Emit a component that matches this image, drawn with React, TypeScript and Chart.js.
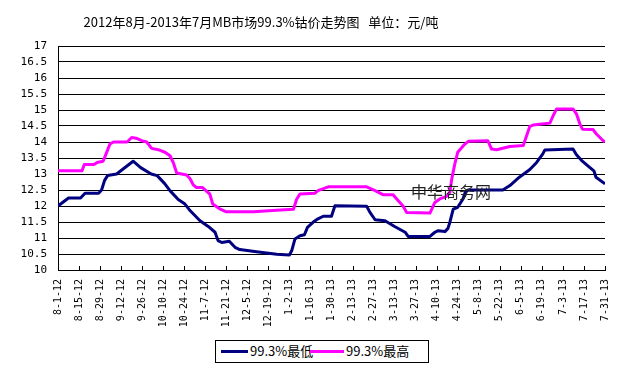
import React, { useEffect, useRef } from "react";
import { Chart, registerables } from "chart.js";

Chart.register(...registerables);

const TITLE = "2012年8月-2013年7月MB市场99.3%钴价走势图   单位：元/吨";
const WATERMARK = "中华商务网";
const SERIES_NAMES = ["99.3%最低", "99.3%最高"];
const SERIES_COLORS = ["#000080", "#FF00FF"];

// day offsets from 2012-08-01
const lowDays = [0, 7, 15, 18, 27, 29, 31, 33, 39, 50, 55, 62, 66, 71, 74.5, 80, 84.5, 88, 94.5, 100, 104.5, 106.5, 109, 114, 117.8, 121, 132, 145.5, 154, 155.5, 157.7, 161, 164, 166, 169.7, 173, 176.5, 182, 184.3, 205.4, 207.6, 211, 217.6, 224, 231, 233, 247.5, 250.8, 253, 257.5, 259.5, 260.8, 263, 266, 269.5, 271, 273, 296, 300.7, 307, 314, 318.5, 322.5, 324, 342.7, 345, 348.5, 353, 356.6, 358, 364];
const lowValues = [12.0, 12.25, 12.25, 12.4, 12.4, 12.5, 12.8, 12.95, 13.0, 13.4, 13.2, 13.0, 12.95, 12.7, 12.48, 12.2, 12.06, 11.85, 11.54, 11.36, 11.18, 10.92, 10.86, 10.9, 10.71, 10.64, 10.57, 10.49, 10.47, 10.6, 10.97, 11.07, 11.1, 11.33, 11.49, 11.6, 11.68, 11.68, 12.01, 11.99, 11.8, 11.57, 11.54, 11.36, 11.18, 11.05, 11.05, 11.18, 11.23, 11.2, 11.3, 11.5, 11.9, 11.96, 12.22, 12.43, 12.5, 12.5, 12.64, 12.9, 13.14, 13.36, 13.62, 13.75, 13.78, 13.6, 13.42, 13.24, 13.1, 12.9, 12.69];

const highDays = [0, 16, 17.5, 24, 26, 30, 32, 34.6, 37, 46, 49, 52, 55.7, 59, 62.3, 66.7, 71.2, 74.5, 76.7, 79, 85.6, 87.8, 90, 92, 96, 101, 103, 108, 112, 130, 145.5, 156.7, 158.8, 161, 171, 173, 179.8, 205.4, 211, 216.6, 223, 225.4, 229.6, 232, 247.5, 250.8, 254, 258.6, 260.8, 262, 264, 266, 270, 273, 286, 288.5, 291.9, 300.7, 309.6, 314, 316.2, 321.8, 327.3, 329.5, 331.7, 342.8, 345, 347.3, 349, 356, 358.3, 362.8, 364];
const highValues = [13.1, 13.1, 13.3, 13.3, 13.36, 13.4, 13.63, 13.94, 14.0, 14.0, 14.14, 14.12, 14.04, 14.0, 13.8, 13.76, 13.68, 13.57, 13.36, 13.03, 12.97, 12.86, 12.66, 12.58, 12.58, 12.375, 12.06, 11.9, 11.82, 11.82, 11.87, 11.9, 12.21, 12.375, 12.4, 12.48, 12.6, 12.6, 12.48, 12.35, 12.35, 12.22, 12.0, 11.8, 11.78, 12.11, 12.22, 12.3, 12.43, 12.84, 13.3, 13.68, 13.9, 14.02, 14.04, 13.78, 13.76, 13.86, 13.89, 14.49, 14.53, 14.56, 14.59, 14.82, 15.03, 15.03, 14.88, 14.56, 14.4, 14.39, 14.25, 14.04, 14.0];

const Y_MIN = 10;
const Y_MAX = 17;
const Y_STEP = 0.5;
const X_MAX_DAY = 364;
const X_STEP_DAYS = 14;

function dayLabel(d: number): string {
  const dt = new Date(2012, 7, 1 + Math.round(d));
  return `${dt.getMonth() + 1}-${dt.getDate()}-${String(dt.getFullYear()).slice(2)}`;
}

const MONO = '"DejaVu Sans Mono", "Noto Sans CJK SC", monospace';
const CJK = '"Noto Sans CJK SC", "DejaVu Sans", sans-serif';

export default function App() {
  const ref = useRef<HTMLCanvasElement | null>(null);

  useEffect(() => {
    document.body.style.margin = "0";
    const canvas = ref.current;
    if (!canvas) return;
    const overlay = {
      id: "overlay",
      afterDraw(chart: any) {
        const ctx = chart.ctx;
        const xs = chart.scales.x;
        const area = chart.chartArea;
        ctx.save();
        // inside tick marks on x axis
        ctx.strokeStyle = "#000";
        ctx.lineWidth = 1;
        ctx.beginPath();
        xs.ticks.forEach((t: any) => {
          const px = Math.round(xs.getPixelForValue(t.value)) + 0.5;
          ctx.moveTo(px, area.bottom);
          ctx.lineTo(px, area.bottom - 4);
        });
        ctx.stroke();
        // title
        ctx.fillStyle = "#000";
        ctx.font = `13px ${CJK}`;
        ctx.textAlign = "center";
        ctx.textBaseline = "middle";
        ctx.fillText(TITLE, 261, 22);
        // watermark
        ctx.fillStyle = "#222";
        ctx.font = `16px ${CJK}`;
        ctx.textAlign = "left";
        ctx.fillText(WATERMARK, 411, 192);
        ctx.restore();
      },
    };
    const chart = new Chart(canvas, {
      type: "line",
      data: {
        datasets: [
          {
            label: SERIES_NAMES[0],
            data: lowDays.map((d, i) => ({ x: d, y: lowValues[i] })),
            borderColor: SERIES_COLORS[0],
            backgroundColor: SERIES_COLORS[0],
            borderWidth: 3,
            pointRadius: 0,
            tension: 0,
            borderJoinStyle: "round",
          },
          {
            label: SERIES_NAMES[1],
            data: highDays.map((d, i) => ({ x: d, y: highValues[i] })),
            borderColor: SERIES_COLORS[1],
            backgroundColor: SERIES_COLORS[1],
            borderWidth: 3,
            pointRadius: 0,
            tension: 0,
            borderJoinStyle: "round",
          },
        ],
      },
      options: {
        animation: false,
        responsive: false,
        devicePixelRatio: 1,
        layout: { padding: { top: 46, right: 22, bottom: 0, left: 0 } },
        plugins: {
          legend: { display: false },
          title: { display: false },
          tooltip: { enabled: false },
        },
        scales: {
          x: {
            type: "linear",
            min: 0,
            max: X_MAX_DAY,
            afterFit: (s: any) => {
              s.height = 100;
            },
            grid: { display: false, drawTicks: false },
            border: { display: true, color: "#000", width: 1 },
            ticks: {
              stepSize: X_STEP_DAYS,
              maxTicksLimit: 40,
              autoSkip: false,
              maxRotation: 90,
              minRotation: 90,
              padding: 9,
              color: "#000",
              font: { family: MONO, size: 10 },
              callback: (v: any) => dayLabel(Number(v)),
            },
          },
          y: {
            min: Y_MIN,
            max: Y_MAX,
            afterFit: (s: any) => {
              s.width = 58;
            },
            grid: { color: "#000", lineWidth: 1, drawTicks: false },
            border: { display: true, color: "#000", width: 1 },
            ticks: {
              stepSize: Y_STEP,
              maxTicksLimit: 40,
              autoSkip: false,
              padding: 11,
              color: "#000",
              font: { family: MONO, size: 11 },
              callback: (v: any) => String(Number(v)),
            },
          },
        },
      },
      plugins: [overlay],
    } as any);
    return () => chart.destroy();
  }, []);

  const legendText: React.CSSProperties = {
    position: "absolute",
    top: 0,
    height: 21,
    lineHeight: "21px",
    font: `13px ${CJK}`,
    color: "#000",
    whiteSpace: "nowrap",
  };

  return (
    <div style={{ position: "relative", width: 627, height: 370, background: "#fff" }}>
      <canvas ref={ref} width={627} height={370} style={{ display: "block", width: 627, height: 370 }} />
      <div
        style={{
          position: "absolute",
          left: 215,
          top: 340,
          width: 214,
          height: 23,
          border: "1px solid #000",
          boxSizing: "border-box",
          background: "#fff",
        }}
      >
        <span style={{ position: "absolute", left: 5, top: 9, width: 27, height: 3, background: SERIES_COLORS[0] }} />
        <span style={{ ...legendText, left: 34 }}>{SERIES_NAMES[0]}</span>
        <span style={{ position: "absolute", left: 94, top: 9, width: 34, height: 3, background: SERIES_COLORS[1] }} />
        <span style={{ ...legendText, left: 130 }}>{SERIES_NAMES[1]}</span>
      </div>
    </div>
  );
}
